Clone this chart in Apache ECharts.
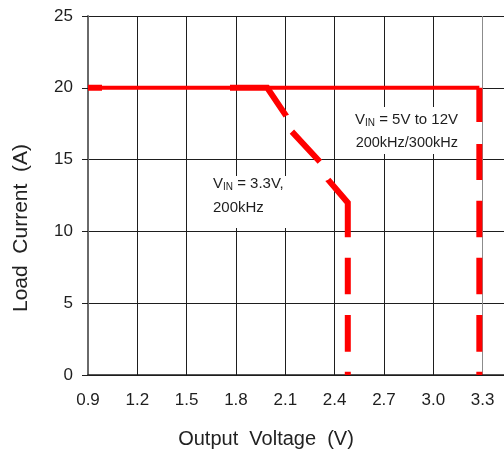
<!DOCTYPE html>
<html><head><meta charset="utf-8">
<script src="https://cdn.jsdelivr.net/npm/echarts@6/dist/echarts.min.js"></script>
<style>html,body{margin:0;padding:0;background:#fff}#c{width:504px;height:454px}</style>
</head><body><div id="c"></div>
<script>
// axis ticks
const xTicks = [0.9, 1.2, 1.5, 1.8, 2.1, 2.4, 2.7, 3.0, 3.3];
const yTicks = [0, 5, 10, 15, 20, 25];
// VIN = 5V to 12V, 200kHz/300kHz : [output voltage V, load current A]
const vin5to12 = [[0.9, 20], [3.28, 20], [3.28, 0]];
// VIN = 3.3V, 200kHz
const vin33 = [[0.9, 20], [1.99, 20], [2.105, 18.05], [2.14, 16.95], [2.31, 14.85], [2.36, 13.6], [2.48, 12], [2.48, 0]];
const xTitle = 'Output  Voltage  (V)';
const yTitle = 'Load  Current  (A)';

const FONT = '"Liberation Sans", Arial, sans-serif';
const RED = '#ff0000';
const DARK = '#1e1e1e';
const xSplitColors = xTicks.map(v => (v === 3.3 ? '#8c8c8c' : DARK)).concat([DARK, DARK]);

const chart = echarts.init(document.getElementById('c'), null, {renderer: 'canvas'});
chart.setOption({
  animation: false,
  backgroundColor: '#fff',
  grid: {left: 88, right: 0, top: 16, bottom: 79, containLabel: false},
  xAxis: {
    type: 'value', min: 0.9, max: 3.43, interval: 0.3,
    axisLine: {show: true, onZero: false, lineStyle: {color: DARK, width: 1.5}},
    axisTick: {show: false},
    axisLabel: {
      margin: 17, color: DARK, fontFamily: FONT, fontSize: 17, showMaxLabel: false,
      formatter: v => (xTicks.some(t => Math.abs(t - v) < 1e-6) ? v.toFixed(1) : '')
    },
    splitLine: {show: true, lineStyle: {color: xSplitColors, width: 1}}
  },
  yAxis: {
    type: 'value', min: 0, max: 25, interval: 5,
    axisLine: {show: true, lineStyle: {color: '#6a6a6a', width: 2}},
    axisTick: {show: true, length: 6, lineStyle: {color: DARK, width: 1}},
    axisLabel: {
      margin: 15, color: DARK, fontFamily: FONT, fontSize: 17,
      formatter: v => (yTicks.indexOf(v) >= 0 ? String(v) : '')
    },
    splitLine: {show: true, lineStyle: {color: DARK, width: 1}}
  },
  graphic: [
    {type: 'rect', shape: {x: 338, y: 107, width: 134, height: 47}, style: {fill: '#fff'}, z: 5},
    {type: 'rect', shape: {x: 198, y: 176, width: 102, height: 52}, style: {fill: '#fff'}, z: 5},
    {type: 'text', x: 458, y: 112, z: 6, style: {
      text: '{a|V}{b|IN}{a| = 5V to 12V}\n{c|200kHz/300kHz}', align: 'right', verticalAlign: 'top',
      rich: {
        a: {fontFamily: FONT, fontSize: 15, lineHeight: 16, fill: DARK},
        b: {fontFamily: FONT, fontSize: 10, lineHeight: 16, verticalAlign: 'bottom', fill: DARK},
        c: {fontFamily: FONT, fontSize: 14.5, lineHeight: 30, fill: DARK}
      }
    }},
    {type: 'text', x: 213, y: 176, z: 6, style: {
      text: '{a|V}{b|IN}{a| = 3.3V,}\n{c|200kHz}', align: 'left', verticalAlign: 'top',
      rich: {
        a: {fontFamily: FONT, fontSize: 15, lineHeight: 16, fill: DARK},
        b: {fontFamily: FONT, fontSize: 10, lineHeight: 16, verticalAlign: 'bottom', fill: DARK},
        c: {fontFamily: FONT, fontSize: 15, lineHeight: 31, fill: DARK}
      }
    }},
    {type: 'text', x: 266, y: 439, z: 6, style: {
      text: xTitle, fontFamily: FONT, fontSize: 20, fill: '#222', align: 'center', verticalAlign: 'middle'
    }},
    {type: 'text', x: 21, y: 228, rotation: Math.PI / 2, z: 6, style: {
      text: yTitle, fontFamily: FONT, fontSize: 21, fill: '#222', align: 'center', verticalAlign: 'middle'
    }}
  ],
  series: [
    {
      name: 'VIN 3.3V', type: 'line', data: vin33, symbol: 'none', z: 3,
      lineStyle: {color: RED, width: 6, cap: 'butt', join: 'miter',
        type: [14, 128, 71.04, 16.8, 41.1, 19.7, 64.9, 20.4, 36.6, 20.7, 36.7, 20, 20, 40]}
    },
    {
      name: 'VIN 5V-12V', type: 'line', data: vin5to12.slice(0, 2), symbol: 'none', z: 3,
      lineStyle: {color: RED, width: 4, cap: 'butt'}
    },
    {
      name: 'VIN 5V-12V drop', type: 'line', data: vin5to12.slice(1), symbol: 'none', z: 3,
      lineStyle: {color: RED, width: 6, cap: 'butt',
        type: [34.2, 22, 36, 20.7, 36.6, 20.4, 36.6, 20.7, 36.7, 20, 10, 40]}
    }
  ]
});
</script></body></html>
